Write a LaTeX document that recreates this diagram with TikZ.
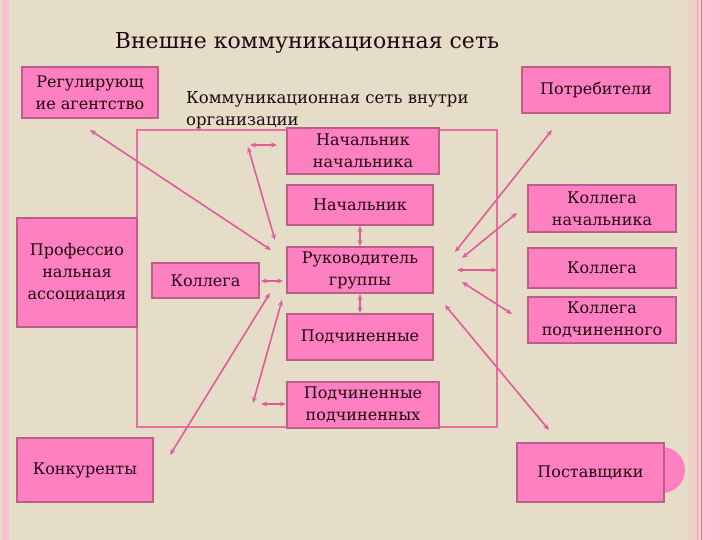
\documentclass[tikz,border=0pt]{standalone}
\usepackage{fontspec}
\setmainfont{DejaVu Serif}
\usetikzlibrary{arrows.meta}
\definecolor{bg}{HTML}{E6DDC8}
\definecolor{boxfill}{HTML}{FF80C0}
\definecolor{boxdraw}{HTML}{BD5E8A}
\definecolor{arrowc}{HTML}{E05C98}
\definecolor{framec}{HTML}{E6709F}
\definecolor{stripL}{HTML}{F9C0D2}
\definecolor{stripR}{HTML}{FFC2D8}
\definecolor{stripRl}{HTML}{EFCFC8}
\definecolor{textc}{HTML}{1E0A12}
\begin{document}
\begin{tikzpicture}[x=1pt,y=-1pt,
  box/.style={draw=boxdraw, line width=2pt, fill=boxfill, inner sep=0pt, align=center,
    font=\fontsize{16}{22}\selectfont, text=textc},
  conn/.style={draw=arrowc, line width=1.6pt, {Stealth[length=6pt,width=5pt]}-{Stealth[length=6pt,width=5pt]}},
  lbl/.style={text=textc, inner sep=0pt}]
\useasboundingbox (0,0) rectangle (720,540);
\fill[bg] (0,0) rectangle (720,540);
\fill[stripL] (2,0) rectangle (9,540);
\fill[stripRl] (688,0) rectangle (720,540);
\fill[stripR] (703,0) rectangle (720,540);
\draw[framec!70!white, line width=1pt] (697,0) -- (697,540);
\draw[framec, line width=1pt] (701,0) -- (701,540);

% title and label
\node[lbl, font=\fontsize{22}{26}\selectfont] (title) at (307,43) {Внешне коммуникационная сеть};
\node[lbl, anchor=west, align=left, font=\fontsize{16.5}{22}\selectfont] (inner) at (186,110) {Коммуникационная сеть внутри\\организации};

% inner frame
\draw[framec, line width=1.4pt] (137,130) rectangle (497,427);

% decorative circle
\fill[boxfill] (662,470) circle (23);

% boxes
\node[box, minimum width=136, minimum height=51] (reg) at (90,92.5) {Регулирующ\\ие агентство};
\node[box, minimum width=148, minimum height=46] (potr) at (596,90) {Потребители};
\node[box, minimum width=152, minimum height=46] (nn) at (363,151) {Начальник\\начальника};
\node[box, minimum width=146, minimum height=40] (nach) at (360,205) {Начальник};
\node[box, minimum width=146, minimum height=46] (ruk) at (360,270) {Руководитель\\группы};
\node[box, minimum width=146, minimum height=46] (podch) at (360,337) {Подчиненные};
\node[box, minimum width=152, minimum height=46] (pp) at (363,405) {Подчиненные\\подчиненных};
\node[box, minimum width=107, minimum height=35] (kolL) at (205.5,280.5) {Коллега};
\node[box, minimum width=120, minimum height=109] (prof) at (77,272.5) {Профессио\\нальная\\ассоциация};
\node[box, minimum width=136, minimum height=64] (konk) at (85,470) {Конкуренты};
\node[box, minimum width=147, minimum height=59] (post) at (590.5,472.5) {Поставщики};
\node[box, minimum width=148, minimum height=47] (kn) at (602,208.5) {Коллега\\начальника};
\node[box, minimum width=148, minimum height=40] (kolR) at (602,268) {Коллега};
\node[box, minimum width=148, minimum height=46] (kp) at (602,320) {Коллега\\подчиненного};

% connector end points
\coordinate (c1a) at (90,130);   \coordinate (c1b) at (271,250);
\coordinate (c2a) at (275,240);  \coordinate (c2b) at (248,147);
\coordinate (c2c) at (250,145);  \coordinate (c2d) at (277,145);
\coordinate (c3a) at (261,281);  \coordinate (c3b) at (283,281);
\coordinate (c4a) at (270,293);  \coordinate (c4b) at (170,455);
\coordinate (c5a) at (282,300);  \coordinate (c5b) at (253,403);
\coordinate (c5c) at (261,404);  \coordinate (c5d) at (286,404);
\coordinate (d1a) at (552,130);  \coordinate (d1b) at (455,252);
\coordinate (d2a) at (517,213);  \coordinate (d2b) at (462,258);
\coordinate (d3a) at (497,270);  \coordinate (d3b) at (457,270);
\coordinate (d4a) at (512,314);  \coordinate (d4b) at (462,282);
\coordinate (d5a) at (549,430);  \coordinate (d5b) at (445,305);

% connectors
\draw[conn] (c1a) -- (c1b);
\draw[conn] (c2a) -- (c2b);
\draw[conn] (c2c) -- (c2d);
\draw[conn] (c3a) -- (c3b);
\draw[conn] (c4a) -- (c4b);
\draw[conn] (c5a) -- (c5b);
\draw[conn] (c5c) -- (c5d);
\draw[conn] (d1a) -- (d1b);
\draw[conn] (d2a) -- (d2b);
\draw[conn] (d3a) -- (d3b);
\draw[conn] (d4a) -- (d4b);
\draw[conn] (d5a) -- (d5b);
\draw[conn] (nach.south) -- (ruk.north);
\draw[conn] (ruk.south) -- (podch.north);
\end{tikzpicture}
\end{document}
